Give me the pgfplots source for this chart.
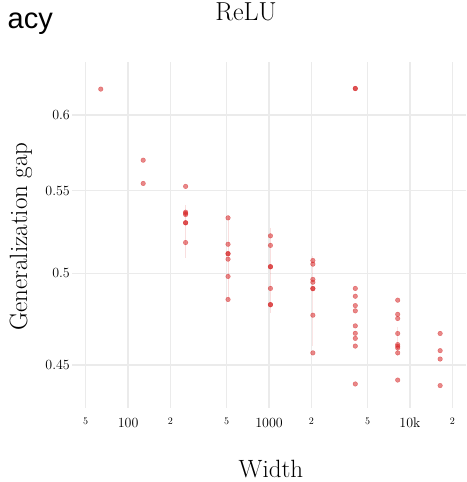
\documentclass[border=0pt]{standalone}
\usepackage{fontspec}
\usepackage{pgfplots}
\pgfplotsset{compat=1.18}
\newfontfamily\helv{Liberation Sans}
\definecolor{gridgray}{RGB}{235,235,235}
\definecolor{ptred}{RGB}{214,39,40}
\newcommand{\mn}[1]{{\fontsize{10}{12}\selectfont #1}}
\begin{document}
\begin{tikzpicture}
\useasboundingbox (0,0) rectangle (466pt,-482pt);
\begin{axis}[
  at={(72pt,-408pt)}, anchor=south west,
  scale only axis, width=394pt, height=346pt,
  xmode=log, ymode=log,
  xmin=40, xmax=25000, ymin=0.4284, ymax=0.6375,
  axis line style={draw=none},
  major tick length=0pt, minor tick num=0,
  xtick={50,100,200,500,1000,2000,5000,10000,20000},
  xticklabels={\mn{5},100,\mn{2},\mn{5},1000,\mn{2},\mn{5},10k,\mn{2}},
  ytick={0.45,0.5,0.55,0.6},
  yticklabels={0.45,0.5,0.55,0.6},
  xminorgrids=false, yminorgrids=false,
  xmajorgrids=true, ymajorgrids=true,
  major grid style={draw=gridgray, line width=1.6pt},
  tick label style={font=\fontsize{14}{16}\selectfont},
  xticklabel style={anchor=north, inner sep=0pt, yshift=-10pt},
  yticklabel style={anchor=east, inner sep=0pt, xshift=-2pt},
  title={ReLU},
  title style={at={(rel axis cs:0.4416,1.104)}, anchor=base, inner sep=0pt, font=\fontsize{26}{30}\selectfont},
  xlabel={Width},
  xlabel style={at={(rel axis cs:0.505,-0.1994)}, anchor=base, inner sep=0pt, font=\fontsize{25}{30}\selectfont},
  ylabel={Generalization gap},
  ylabel style={at={(rel axis cs:-0.1142,0.4957)}, anchor=base, rotate=0, inner sep=0pt, font=\fontsize{25}{30}\selectfont},
]
% faint ranges
\addplot[ptred, opacity=0.15, line width=0.8pt, forget plot] coordinates {(256,0.509) (256,0.541)};
\addplot[ptred, opacity=0.15, line width=0.8pt, forget plot] coordinates {(512,0.485) (512,0.535)};
\addplot[ptred, opacity=0.15, line width=0.8pt, forget plot] coordinates {(1024,0.478) (1024,0.527)};
\addplot[ptred, opacity=0.12, line width=0.8pt, forget plot] coordinates {(2048,0.460) (2048,0.510)};
\addplot[ptred, opacity=0.12, line width=0.8pt, forget plot] coordinates {(8192,0.455) (8192,0.470)};
% points
\addplot[only marks, mark=*, mark size=2.3pt, color=ptred, opacity=0.55, mark options={draw=none, fill=ptred}] coordinates {
(64,0.618)
(128,0.5695) (128,0.5545)
(256,0.5526) (256,0.5365) (256,0.5358) (256,0.5350) (256,0.5301) (256,0.5299) (256,0.5181)
(512,0.5330) (512,0.5171) (512,0.5116) (512,0.5114) (512,0.5083) (512,0.4983) (512,0.4853)
(1024,0.5221) (1024,0.5164) (1024,0.5040) (1024,0.5038) (1024,0.4915) (1024,0.4825) (1024,0.4823)
(2048,0.5075) (2048,0.5054) (2048,0.4966) (2048,0.4950) (2048,0.4915) (2048,0.4913) (2048,0.4766) (2048,0.4564)
(4096,0.6185) (4096,0.6183) (4096,0.4915) (4096,0.4871) (4096,0.4819) (4096,0.4790) (4096,0.4708) (4096,0.4668) (4096,0.4641) (4096,0.4600) (4096,0.4404)
(8192,0.4849) (8192,0.4771) (8192,0.4748) (8192,0.4667) (8192,0.4608) (8192,0.4599) (8192,0.4590) (8192,0.4564) (8192,0.4424)
(16384,0.4667) (16384,0.4576) (16384,0.4532) (16384,0.4396)
};
\end{axis}
\node[anchor=base east, inner sep=0pt, font=\helv\fontsize{29}{32}\selectfont] at (53pt,-28pt) {acy};
\end{tikzpicture}
\end{document}
